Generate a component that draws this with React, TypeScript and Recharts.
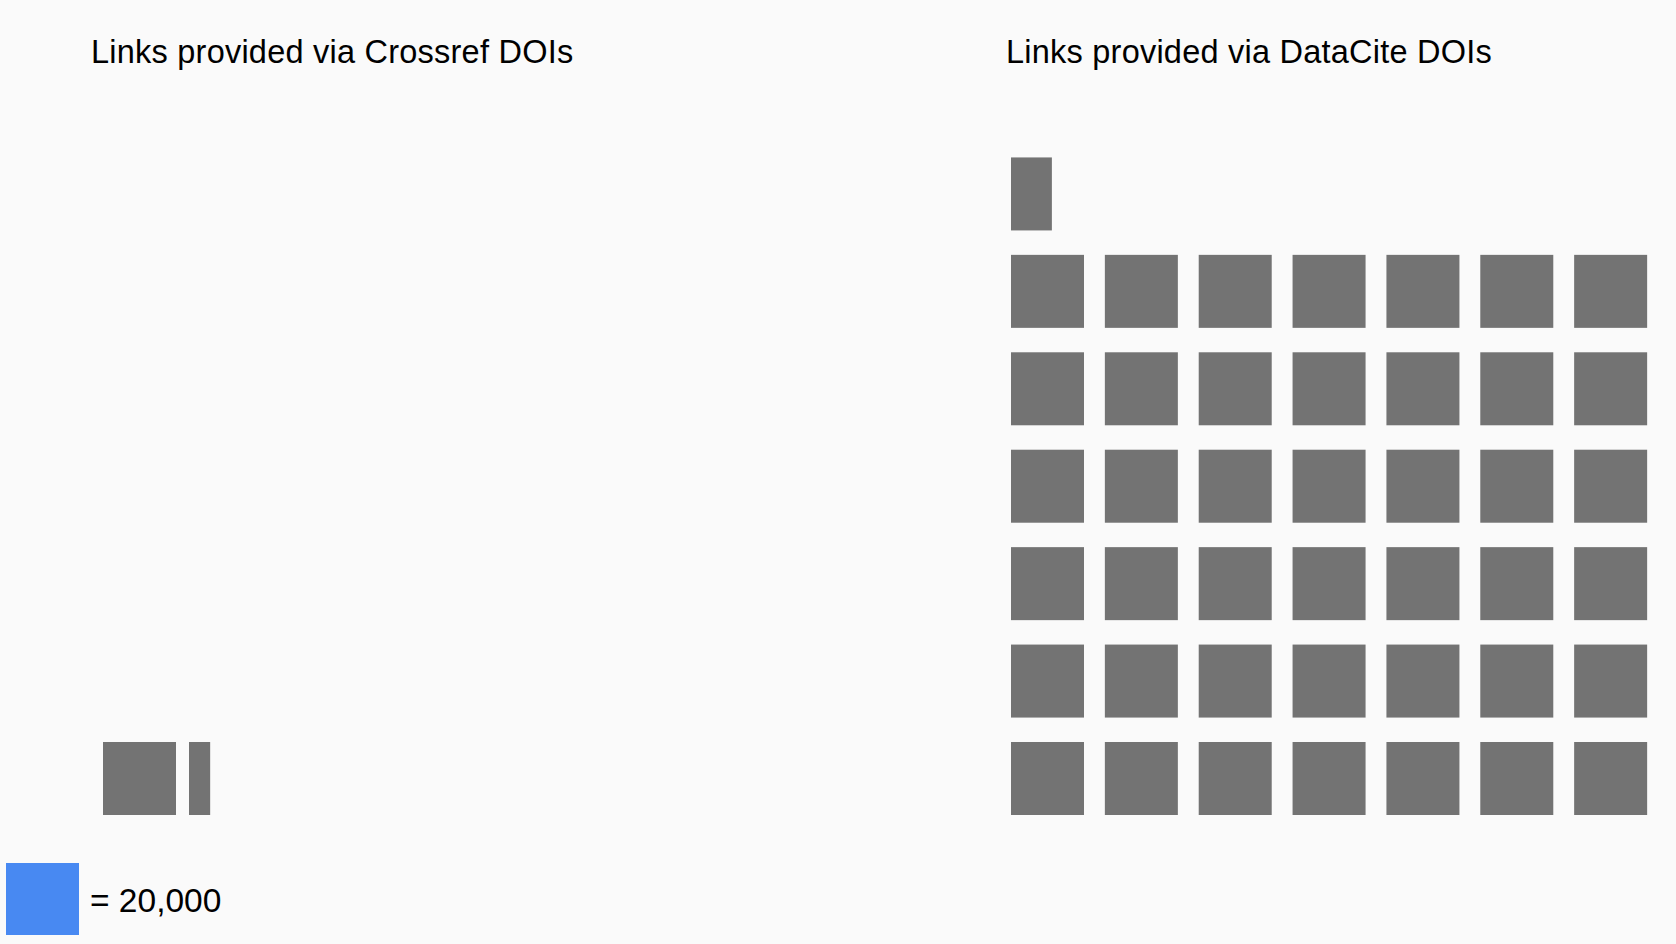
import React from "react";
import { ScatterChart, Scatter, XAxis, YAxis } from "recharts";

// ---- data ----
const panelTitles = ["Links provided via Crossref DOIs", "Links provided via DataCite DOIs"];
const linkCounts = [25800, 851200];
const unitValue = 20000;
const unitLabel = "= 20,000";
const columnsPerRow = [7, 7];
const rowsShown = 7;

// ---- styles ----
const CELL = 73;
const SQUARE_COLOR = "#737373";
const BG = "#fafafa";
const FONT = "'Liberation Sans', Arial, Helvetica, sans-serif";

type Cell = { col: number; row: number; fraction: number };

function buildCells(total: number, perRow: number): Cell[] {
  const units = total / unitValue;
  const full = Math.floor(units);
  const rest = units - full;
  const cells: Cell[] = [];
  for (let i = 0; i < full; i++) {
    cells.push({ col: i % perRow, row: Math.floor(i / perRow), fraction: 1 });
  }
  if (rest > 0.001) {
    cells.push({ col: full % perRow, row: Math.floor(full / perRow), fraction: rest });
  }
  return cells;
}

const SquareShape = (props: any) => {
  const { cx, cy, payload } = props;
  if (cx == null || cy == null) return null;
  return (
    <rect
      x={cx}
      y={cy - CELL}
      width={CELL * payload.fraction}
      height={CELL}
      fill={SQUARE_COLOR}
    />
  );
};

const panelLayout = [
  { left: 0, width: 838, margin: { top: 133, bottom: 129, left: 103, right: 133 } },
  { left: 838, width: 838, margin: { top: 133, bottom: 129, left: 173, right: 8 } },
];
const titleLeft = [91, 1006];

export default function App() {
  return (
    <div
      style={{
        position: "absolute",
        left: 0,
        top: 0,
        width: 1676,
        height: 944,
        background: BG,
        fontFamily: FONT,
        overflow: "hidden",
      }}
    >
      {panelTitles.map((t, i) => (
        <div
          key={t}
          style={{
            position: "absolute",
            left: titleLeft[i],
            top: 35.5,
            fontSize: 32.5,
            lineHeight: "32.5px",
            letterSpacing: 0.23,
            color: "#000",
            whiteSpace: "nowrap",
          }}
        >
          {t}
        </div>
      ))}
      {panelLayout.map((p, i) => (
        <div key={i} style={{ position: "absolute", left: p.left, top: 0 }}>
          <ScatterChart width={p.width} height={944} margin={p.margin}>
            <XAxis type="number" dataKey="col" domain={[0, columnsPerRow[i]]} hide />
            <YAxis type="number" dataKey="row" domain={[0, rowsShown]} hide />
            <Scatter
              data={buildCells(linkCounts[i], columnsPerRow[i])}
              shape={SquareShape}
              isAnimationActive={false}
            />
          </ScatterChart>
        </div>
      ))}
      <div
        style={{
          position: "absolute",
          left: 6,
          top: 863,
          width: 73,
          height: 72,
          background: "#4889f2",
        }}
      />
      <div
        style={{
          position: "absolute",
          left: 90,
          top: 884,
          fontSize: 33.5,
          lineHeight: "33.5px",
          color: "#000",
          whiteSpace: "nowrap",
        }}
      >
        {unitLabel}
      </div>
    </div>
  );
}
